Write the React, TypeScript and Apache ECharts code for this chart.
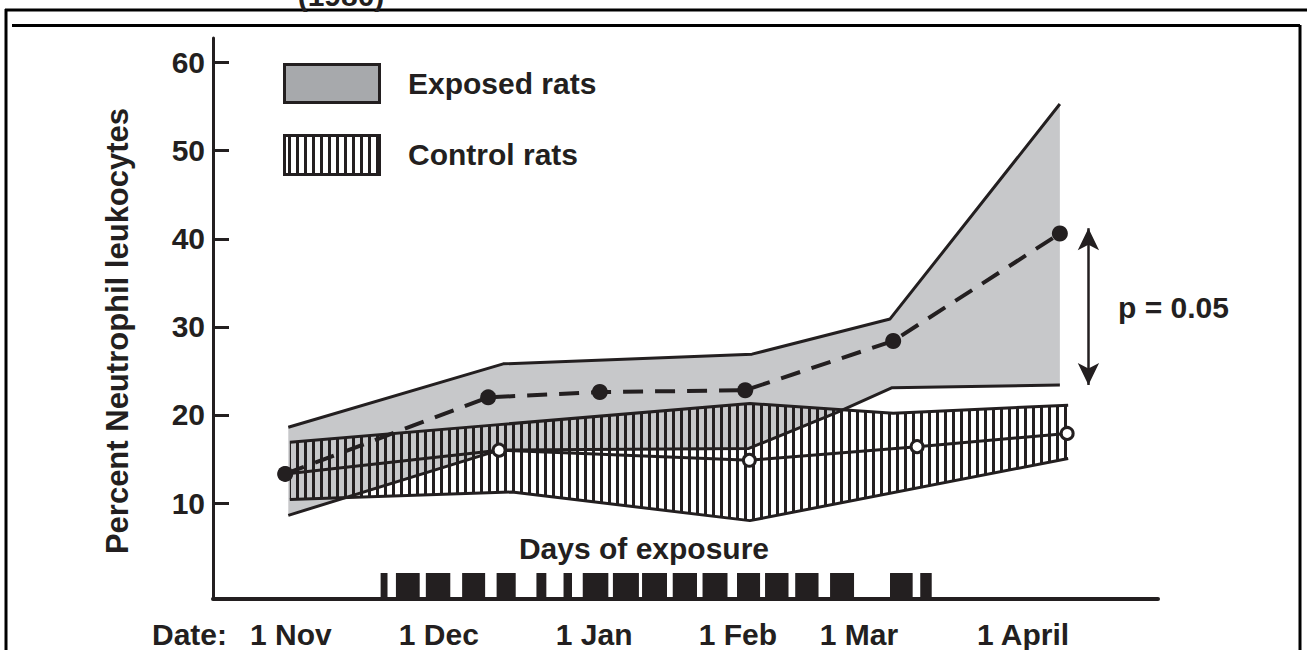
import React, { useEffect, useRef } from 'react';
import * as echarts from 'echarts';

// ---------- data (x in days from 1 Nov; y in percent) ----------
const xTickValues = [0, 28.5, 58.4, 86.1, 109.4, 141.0];
const xTickLabels = ['1 Nov', '1 Dec', '1 Jan', '1 Feb', '1 Mar', '1 April'];
const yTickValues = [10, 20, 30, 40, 50, 60];

const exposedMeanX = [-1.1, 38.0, 59.5, 87.5, 116.0, 148.1];
const exposedMeanY = [13.3, 22.0, 22.6, 22.8, 28.4, 40.6];
const exposedUpperX = [-0.5, 40.9, 88.8, 115.4, 148.1];
const exposedUpperY = [18.6, 25.8, 26.9, 30.9, 55.3];
const exposedLowerX = [-0.5, 40.1, 88.2, 105.2, 115.8, 148.1];
const exposedLowerY = [8.6, 16.0, 16.2, 20.3, 23.1, 23.4];

const controlMeanX = [-1.1, 40.1, 88.3, 120.6, 149.5];
const controlMeanY = [13.3, 16.0, 14.85, 16.4, 17.9];
const controlUpperX = [-0.2, 40.1, 88.4, 116.0, 149.7];
const controlUpperY = [16.9, 18.9, 21.3, 20.2, 21.1];
const controlLowerX = [-0.2, 42.6, 88.4, 149.7];
const controlLowerY = [10.4, 11.25, 8.0, 15.05];

const exposureStart = [17.28, 20.23, 25.99, 32.98, 39.62, 47.29, 52.51, 56.21, 62.02, 67.63, 73.54, 79.28, 85.92, 91.32, 97.13, 103.84, 115.39, 121.21];
const exposureEnd = [18.61, 24.81, 30.7, 37.41, 43.3, 49.2, 54.14, 61.14, 67.03, 72.44, 78.22, 84.09, 90.36, 95.84, 101.62, 108.46, 119.75, 123.42];

const pArrowX = 153.6;
const pArrowRange = [41.2, 23.4];
const pLabel = 'p = 0.05';

// ---------- styling ----------
const X_MIN = -15;
const X_MAX = 167;
const Y_MIN = -0.9;
const Y_MAX = 62.8;
const EXPOSURE_BAR_TOP = 2.05;
const INK = '#231f20';
const BAND_GRAY = '#c7c8ca';
const LEGEND_GRAY = '#a7a9ac';
const FONT = "'Liberation Sans', Arial, Helvetica, sans-serif";

function makeHatch() {
  const c = document.createElement('canvas');
  c.width = 8;
  c.height = 8;
  const ctx = c.getContext('2d');
  if (ctx) {
    ctx.fillStyle = INK;
    ctx.fillRect(0, 0, 3, 8);
  }
  return { image: c, repeat: 'repeat', imageWidth: 8, imageHeight: 8 } as any;
}

const pairs = (xs: number[], ys: number[]) => xs.map((x, i) => [x, ys[i]]);

export default function App() {
  const ref = useRef<HTMLDivElement>(null);
  useEffect(() => {
    if (!ref.current) return;
    const chart = echarts.init(ref.current, undefined, { renderer: 'svg' });
    const hatch = makeHatch();

    const bandSeries = (ux: number[], uy: number[], lx: number[], ly: number[], fill: any, z: number) => ({
      type: 'custom',
      coordinateSystem: 'cartesian2d',
      silent: true,
      z,
      clip: false,
      data: [[ux[0], uy[0]]],
      renderItem: (_p: any, api: any) => {
        const pts = [
          ...ux.map((x, i) => api.coord([x, uy[i]])),
          ...lx.map((x, i) => api.coord([x, ly[i]])).reverse(),
        ];
        return { type: 'polygon', shape: { points: pts }, style: { fill, stroke: null } };
      },
    });

    const edge = (xs: number[], ys: number[]) => ({
      type: 'line',
      data: pairs(xs, ys),
      symbol: 'none',
      silent: true,
      z: 3,
      lineStyle: { color: INK, width: 3 },
    });

    const textStyle = { fontFamily: FONT, fontWeight: 'bold', fontSize: 30, fill: INK };

    const option: any = {
      animation: false,
      backgroundColor: '#ffffff',
      grid: { left: 213, right: 149, top: 38, bottom: 51 },
      xAxis: {
        type: 'value',
        min: X_MIN,
        max: X_MAX,
        splitLine: { show: false },
        axisTick: { show: false },
        axisLine: { show: true, onZero: false, lineStyle: { color: INK, width: 4 } },
        axisLabel: {
          customValues: xTickValues,
          margin: 21,
          color: INK,
          fontFamily: FONT,
          fontWeight: 'bold',
          fontSize: 30,
          lineHeight: 28,
          formatter: (v: number) => {
            const i = xTickValues.findIndex((t) => Math.abs(t - v) < 0.01);
            return i >= 0 ? xTickLabels[i] : '';
          },
        },
      },
      yAxis: {
        type: 'value',
        min: Y_MIN,
        max: Y_MAX,
        splitLine: { show: false },
        axisLine: { show: true, onZero: false, lineStyle: { color: INK, width: 3 } },
        axisTick: { show: true, inside: true, length: 16, customValues: yTickValues, lineStyle: { color: INK, width: 3 } },
        axisLabel: {
          customValues: yTickValues,
          margin: 8,
          color: INK,
          fontFamily: FONT,
          fontWeight: 'bold',
          fontSize: 30,
        },
      },
      series: [
        bandSeries(exposedUpperX, exposedUpperY, exposedLowerX, exposedLowerY, BAND_GRAY, 1),
        bandSeries(controlUpperX, controlUpperY, controlLowerX, controlLowerY, hatch, 2),
        edge(exposedUpperX, exposedUpperY),
        edge(exposedLowerX, exposedLowerY),
        edge(controlUpperX, controlUpperY),
        edge(controlLowerX, controlLowerY),
        {
          type: 'line',
          name: 'Control rats',
          data: pairs(controlMeanX, controlMeanY),
          symbol: 'circle',
          symbolSize: 12,
          showSymbol: true,
          z: 4,
          lineStyle: { color: INK, width: 3 },
          itemStyle: { color: '#ffffff', borderColor: INK, borderWidth: 3 },
        },
        {
          type: 'line',
          name: 'Exposed rats',
          data: pairs(exposedMeanX, exposedMeanY),
          symbol: 'circle',
          symbolSize: 16,
          showSymbol: true,
          z: 5,
          lineStyle: { color: INK, width: 4, type: [20, 12] },
          itemStyle: { color: INK },
          markLine: {
            silent: true,
            symbol: ['arrow', 'arrow'],
            symbolSize: [16, 22],
            label: { show: false },
            lineStyle: { color: INK, width: 2.5, type: 'solid' },
            data: [[{ coord: [pArrowX, pArrowRange[0]] }, { coord: [pArrowX, pArrowRange[1]] }]],
          },
        },
        {
          type: 'custom',
          coordinateSystem: 'cartesian2d',
          silent: true,
          z: 2,
          data: exposureStart.map((s, i) => [s, exposureEnd[i]]),
          renderItem: (_p: any, api: any) => {
            const a = api.coord([api.value(0), EXPOSURE_BAR_TOP]);
            const b = api.coord([api.value(1), Y_MIN]);
            return {
              type: 'rect',
              shape: { x: a[0], y: a[1], width: b[0] - a[0], height: b[1] - a[1] },
              style: { fill: INK },
            };
          },
        },
      ],
      graphic: [
        // frame
        { type: 'line', shape: { x1: 6, y1: 9, x2: 6, y2: 650 }, style: { stroke: '#000', lineWidth: 3 } },
        { type: 'line', shape: { x1: 5, y1: 10, x2: 1307, y2: 10 }, style: { stroke: '#000', lineWidth: 3 } },
        { type: 'line', shape: { x1: 12, y1: 25.5, x2: 1300, y2: 25.5 }, style: { stroke: '#000', lineWidth: 3 } },
        { type: 'line', shape: { x1: 1300, y1: 25, x2: 1300, y2: 650 }, style: { stroke: '#000', lineWidth: 3 } },
        { type: 'text', x: 341, y: 10, style: { ...textStyle, text: '(1980)', align: 'center', verticalAlign: 'bottom' } },
        // y title
        {
          type: 'text',
          x: 117,
          y: 331,
          rotation: Math.PI / 2,
          style: { ...textStyle, fontSize: 31, text: 'Percent Neutrophil leukocytes', align: 'center', verticalAlign: 'middle' },
        },
        // legend
        { type: 'rect', shape: { x: 284.5, y: 64.5, width: 95, height: 38 }, style: { fill: LEGEND_GRAY, stroke: INK, lineWidth: 3 } },
        { type: 'rect', shape: { x: 284.5, y: 135.5, width: 95, height: 39 }, style: { fill: hatch, stroke: INK, lineWidth: 3 } },
        { type: 'text', x: 408, y: 83, style: { ...textStyle, text: 'Exposed rats', verticalAlign: 'middle' } },
        { type: 'text', x: 408, y: 154, style: { ...textStyle, text: 'Control rats', verticalAlign: 'middle' } },
        // annotations
        { type: 'text', x: 1118, y: 307, style: { ...textStyle, text: pLabel, verticalAlign: 'middle' } },
        { type: 'text', x: 644, y: 548, style: { ...textStyle, text: 'Days of exposure', align: 'center', verticalAlign: 'middle' } },
        { type: 'text', x: 152, y: 634, style: { ...textStyle, lineHeight: 28, text: 'Date:', verticalAlign: 'middle' } },
      ],
    };
    chart.setOption(option);
    return () => chart.dispose();
  }, []);
  return (
    <div
      ref={ref}
      style={{ position: 'fixed', left: 0, top: 0, width: 1307, height: 650, background: '#fff' }}
    />
  );
}
